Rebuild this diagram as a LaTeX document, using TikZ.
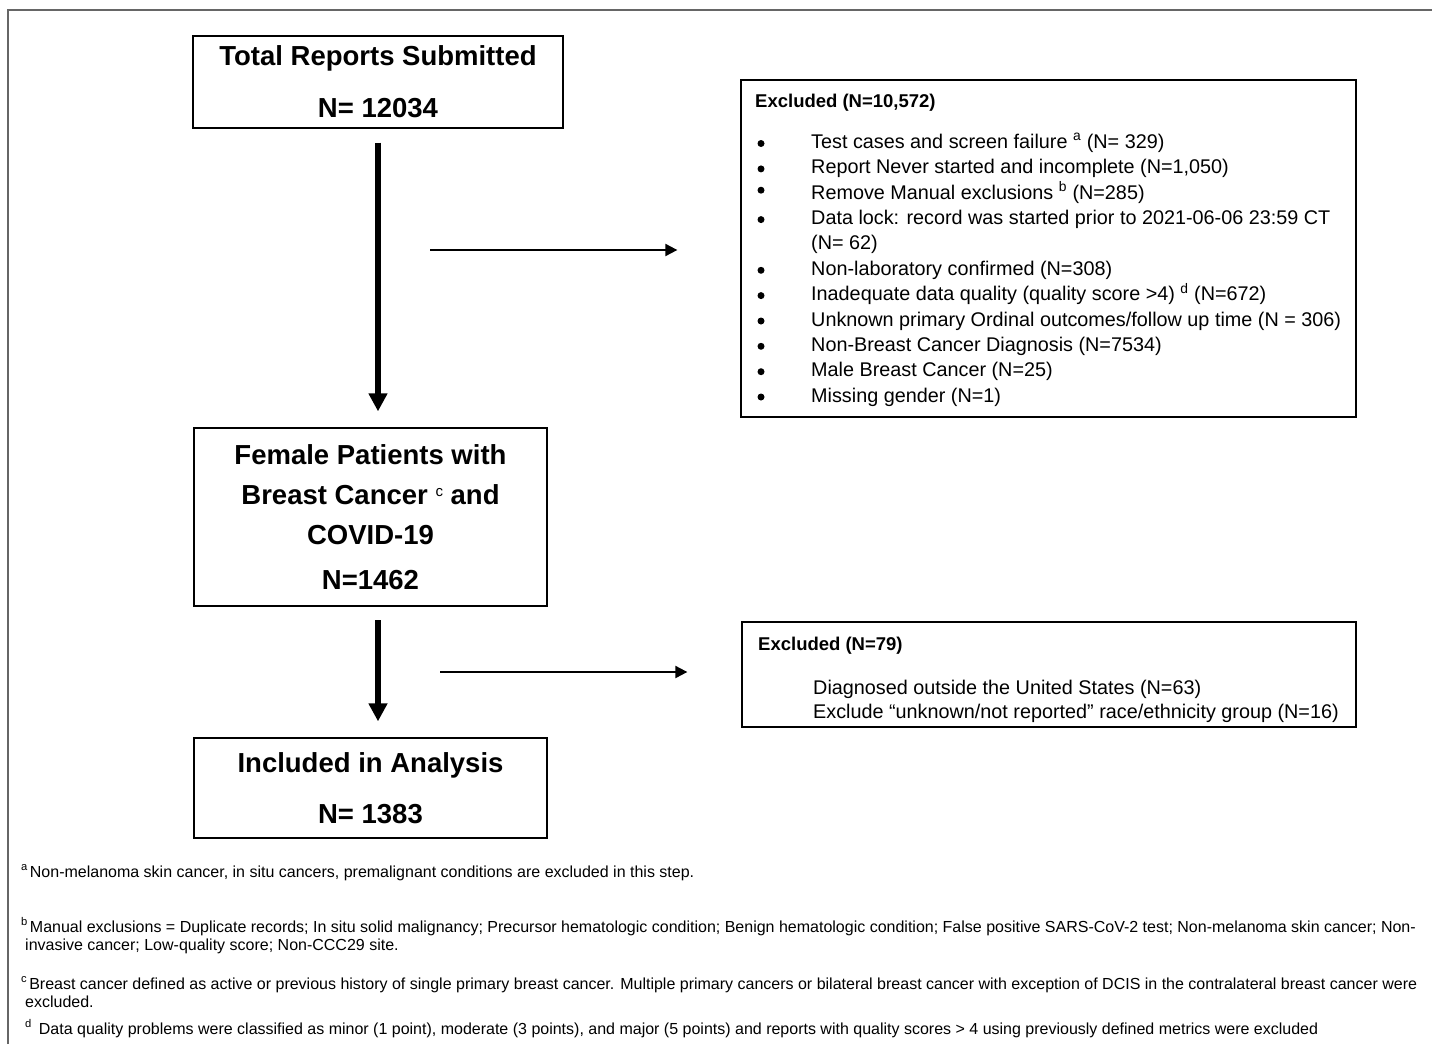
\documentclass[tikz,border=0pt]{standalone}
\usepackage{fontspec}
\setmainfont{Liberation Sans}
\usetikzlibrary{arrows.meta}
\begin{document}
\begin{tikzpicture}[x=1pt,y=-1pt,
  flowbox/.style={draw=black,line width=1.3pt,inner sep=0pt,align=center,
     font=\bfseries\fontsize{27.5}{40}\selectfont},
  exbox/.style={draw=black,line width=1.3pt,inner sep=0pt},
  extitle/.style={anchor=base west,inner sep=0pt,font=\bfseries\fontsize{18.5}{22}\selectfont},
  exitem/.style={anchor=base west,inner sep=0pt,font=\fontsize{19.8}{23}\selectfont},
  bulletdot/.style={circle,fill=black,inner sep=0pt,minimum size=7pt},
  fnote/.style={anchor=base west,inner sep=0pt,font=\fontsize{16}{19}\selectfont},
  bigarrow/.style={line width=5.5pt,-{Triangle[length=18pt,width=18pt]}},
  smallarrow/.style={line width=2pt,-{Triangle[length=12pt,width=12pt]}},
  framestyle/.style={line width=1.5pt,draw=black!60}
]
\fill[white] (0,0) rectangle (1432,1044);
\useasboundingbox (0,0) rectangle (1432,1044);
\draw[framestyle] (8,1044) -- (8,10) -- (1432,10);

% main flow boxes
\node[flowbox,minimum width=370pt,minimum height=92pt] (total) at (378,82)
  {Total Reports Submitted\\[12pt]N= 12034};
\node[flowbox,minimum width=353pt,minimum height=178pt] (female) at (370.5,517)
  {Female Patients with\\Breast Cancer {\normalfont\fontsize{15}{15}\selectfont\raisebox{8pt}{c}} and\\COVID-19\\[5pt]N=1462};
\node[flowbox,minimum width=353pt,minimum height=100pt] (incl) at (370.5,788)
  {Included in Analysis\\[11pt]N= 1383};

% exclusion boxes
\node[exbox,minimum width=615pt,minimum height=337pt] (excl1) at (1048.5,248.5) {};
\node[exbox,minimum width=614pt,minimum height=105pt] (excl2) at (1049,674.5) {};

% arrows
\draw[bigarrow] ([yshift=-14pt]total.south) -- ([yshift=16pt]total.south |- female.north);
\coordinate (a2s) at (378,620);
\draw[bigarrow] (a2s) -- ([yshift=16pt]a2s |- incl.north);
\coordinate (h1) at (430,250);
\draw[smallarrow] (h1) -- ([xshift=-63pt]h1 -| excl1.west);
\coordinate (h2) at (440,672);
\draw[smallarrow] (h2) -- ([xshift=-54pt]h2 -| excl2.west);

% exclusion list 1
\node[extitle] (t1) at (755,107.5) {Excluded (N=10,572)};
\node[exitem] (i1) at (811,148.5) {Test cases and screen failure \textsuperscript{a} (N= 329)};
\node[exitem] (i2) at (811,173.9) {Report Never started and incomplete (N=1,050)};
\node[exitem] (i3) at (811,199.2) {Remove Manual exclusions \textsuperscript{b} (N=285)};
\node[exitem] (i4) at (811,224.6) {Data lock: record was started prior to 2021-06-06 23:59 CT};
\node[exitem] (i4b) at (811,249.9) {(N= 62)};
\node[exitem] (i5) at (811,275.3) {Non-laboratory confirmed (N=308)};
\node[exitem] (i6) at (811,300.6) {Inadequate data quality (quality score >4) \textsuperscript{d} (N=672)};
\node[exitem] (i7) at (811,326) {Unknown primary Ordinal outcomes/follow up time (N = 306)};
\node[exitem] (i8) at (811,351.3) {Non-Breast Cancer Diagnosis (N=7534)};
\node[exitem] (i9) at (811,376.7) {Male Breast Cancer (N=25)};
\node[exitem] (i10) at (811,402) {Missing gender (N=1)};
\node[bulletdot] (b1) at (761,143.5) {};
\node[bulletdot] (b2) at (761,168.9) {};
\node[bulletdot] (b3) at (761,190.2) {};
\node[bulletdot] (b4) at (761,219.6) {};
\node[bulletdot] (b5) at (761,270.3) {};
\node[bulletdot] (b6) at (761,295.6) {};
\node[bulletdot] (b7) at (761,321) {};
\node[bulletdot] (b8) at (761,346.3) {};
\node[bulletdot] (b9) at (761,371.7) {};
\node[bulletdot] (b10) at (761,397) {};

% exclusion list 2
\node[extitle] (t2) at (758,650) {Excluded (N=79)};
\node[exitem] (j1) at (813,694) {Diagnosed outside the United States (N=63)};
\node[exitem] (j2) at (813,718) {Exclude “unknown/not reported” race/ethnicity group (N=16)};

% footnotes
\node[fnote] (fa) at (21,877) {\textsuperscript{a}\hspace{2pt}Non-melanoma skin cancer, in situ cancers, premalignant conditions are excluded in this step.};
\node[fnote] (fb) at (21,932) {\textsuperscript{b}\hspace{2pt}Manual exclusions = Duplicate records; In situ solid malignancy; Precursor hematologic condition; Benign hematologic condition; False positive SARS-CoV-2 test; Non-melanoma skin cancer; Non-};
\node[fnote] (fb2) at (25,950) {invasive cancer; Low-quality score; Non-CCC29 site.};
\node[fnote] (fc) at (21,989) {\textsuperscript{c}\hspace{2pt}Breast cancer defined as active or previous history of single primary breast cancer. Multiple primary cancers or bilateral breast cancer with exception of DCIS in the contralateral breast cancer were};
\node[fnote] (fc2) at (25,1007) {excluded.};
\node[fnote] (fd) at (25,1034) {\textsuperscript{d}\hspace{7pt}Data quality problems were classified as minor (1 point), moderate (3 points), and major (5 points) and reports with quality scores > 4 using previously defined metrics were excluded};
\end{tikzpicture}
\end{document}
